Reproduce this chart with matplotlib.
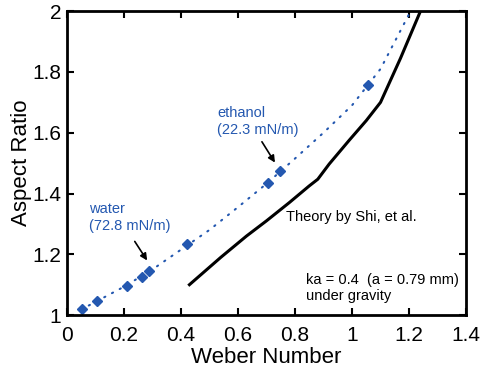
import matplotlib
matplotlib.use("Agg")
import matplotlib.pyplot as plt

plt.rcParams['font.family'] = ['Liberation Sans', 'DejaVu Sans']

# measured data (Weber number, aspect ratio)
we_data = [0.052, 0.106, 0.211, 0.262, 0.289, 0.423, 0.704, 0.747, 1.057]
ar_data = [1.019, 1.046, 1.095, 1.126, 1.145, 1.234, 1.434, 1.474, 1.757]

# dotted fit through the data
we_fit = [0.05, 0.1, 0.2, 0.3, 0.4, 0.5, 0.6, 0.7, 0.8, 0.9, 1.0, 1.1, 1.2]
ar_fit = [1.018, 1.043, 1.093, 1.150, 1.215, 1.28, 1.355, 1.432, 1.515, 1.60, 1.69, 1.81, 1.99]

# theory curve (Shi et al.)
we_th = [0.43, 0.54, 0.63, 0.70, 0.78, 0.85, 0.88, 0.92, 0.99, 1.05, 1.10, 1.17, 1.24]
ar_th = [1.10, 1.19, 1.26, 1.31, 1.37, 1.425, 1.447, 1.497, 1.575, 1.64, 1.70, 1.845, 2.0]

xticks = [0, 0.2, 0.4, 0.6, 0.8, 1.0, 1.2, 1.4]
xticklabels = ['0', '0.2', '0.4', '0.6', '0.8', '1', '1.2', '1.4']
yticks = [1, 1.2, 1.4, 1.6, 1.8, 2]
yticklabels = ['1', '1.2', '1.4', '1.6', '1.8', '2']

blue = '#2458b0'

fig = plt.figure(figsize=(4.84, 3.72), dpi=100)
ax = fig.add_axes([0.138, 0.153, 0.825, 0.817])

ax.plot(we_fit, ar_fit, color=blue, lw=1.5, dashes=(0.6, 3.6),
        dash_capstyle='round')
ax.plot(we_data, ar_data, linestyle='none', marker='D', color=blue, markersize=5.3)
ax.plot(we_th, ar_th, color='black', lw=2.2)

ax.set_xlim(0, 1.4)
ax.set_ylim(1, 2)
ax.set_xticks(xticks)
ax.set_xticklabels(xticklabels)
ax.set_yticks(yticks)
ax.set_yticklabels(yticklabels)
ax.tick_params(direction='in', top=True, right=True, length=5, width=1.5,
               labelsize=15)
ax.tick_params(axis='x', pad=8)
ax.tick_params(axis='y', pad=4)
for s in ax.spines.values():
    s.set_linewidth(2)

ax.set_xlabel('Weber Number', fontsize=16, labelpad=1)
ax.set_ylabel('Aspect Ratio', fontsize=16, labelpad=0)

ax.text(0.078, 1.32, 'water\n(72.8 mN/m)', color=blue, fontsize=10.5,
        ha='left', va='center', linespacing=1.25)
ax.annotate('', xy=(0.287, 1.172), xytext=(0.233, 1.25),
            arrowprops=dict(arrowstyle='-|>', color='black', lw=1.2,
                            mutation_scale=10))

ax.text(0.527, 1.638, 'ethanol\n(22.3 mN/m)', color=blue, fontsize=10.5,
        ha='left', va='center', linespacing=1.25)
ax.annotate('', xy=(0.735, 1.494), xytext=(0.679, 1.578),
            arrowprops=dict(arrowstyle='-|>', color='black', lw=1.2,
                            mutation_scale=10))

ax.text(0.768, 1.324, 'Theory by Shi, et al.', fontsize=10.5, ha='left', va='center')
ax.text(0.838, 1.089, 'ka = 0.4  (a = 0.79 mm)\nunder gravity', fontsize=10.5,
        ha='left', va='center', linespacing=1.25)

fig.savefig('out.png', dpi=100)
